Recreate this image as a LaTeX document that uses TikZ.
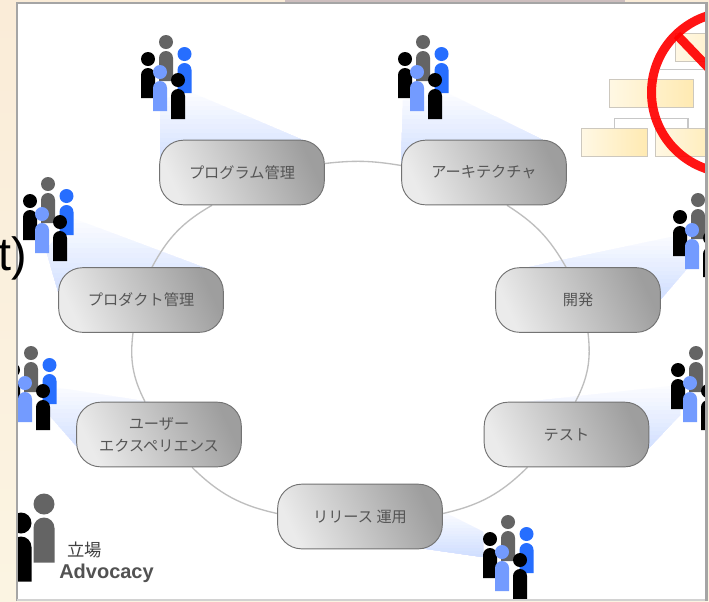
\documentclass[tikz,border=0pt]{standalone}
\usepackage{fontspec}
\setmainfont{Liberation Sans}
\newfontfamily\cjk{Noto Sans CJK JP}
\usetikzlibrary{backgrounds,calc}
\definecolor{PageClr}{RGB}{250,236,216}
\definecolor{PagePale}{RGB}{251,244,226}
\definecolor{MauveClr}{RGB}{205,190,190}
\definecolor{FrameClr}{RGB}{165,165,165}
\definecolor{RingClr}{RGB}{190,190,190}
\definecolor{EdgeClr}{RGB}{115,115,115}
\definecolor{LabelClr}{RGB}{85,85,85}
\definecolor{GreyClr}{RGB}{100,100,100}
\definecolor{BlueClr}{RGB}{38,110,255}
\definecolor{PaleClr}{RGB}{115,155,255}
\definecolor{BeamClr}{RGB}{208,222,255}
\definecolor{BoxClr}{RGB}{255,234,178}
\definecolor{BoxEdge}{RGB}{205,200,190}
\tikzset{
  rolebox/.style={draw=EdgeClr,line width=.7pt,rounded corners=18pt,minimum width=123.5pt,minimum height=48.5pt,
    inner sep=0pt,align=center,left color=black!8,right color=black!38,shading angle=115,
    font=\cjk\fontsize{11.4}{16.5}\selectfont,text=LabelClr},
  orgbox/.style={draw=BoxEdge,line width=.7pt,inner sep=0pt,minimum height=21pt,left color=BoxClr!35,right color=BoxClr},
  orgline/.style={draw=black!22,line width=.8pt},
  ring/.style={draw=RingClr,line width=1pt},
}
% one figure: head at (#1,#2), #3 is its size
\newcommand{\Man}[4]{%
  \fill[#4] (#1,#2) circle (7*#3);
  \fill[#4] (#1-7*#3,#2+39*#3) -- ++(14*#3,0) -- ++(0,-23*#3) arc[start angle=0,end angle=-180,radius=7*#3] -- cycle;
}
\newcommand{\Group}[2]{%
  \Man{#1}{#2}{1}{GreyClr}
  \Man{#1+18.5}{#2+12}{1}{BlueClr}
  \Man{#1-18}{#2+17}{1}{black}
  \Man{#1-6}{#2+30}{1}{PaleClr}
  \Man{#1+12}{#2+38}{1}{black}
}
% pale fan, in bands from y=#1 down to y=#2
\newcommand{\Fan}[3]{%
  \begin{scope}
  \clip #3 -- cycle;
  \foreach \i [evaluate=\i as \c using 8+\i*6] in {0,...,15}
    \fill[BeamClr!\c] (0,{#1+(#2-#1)*\i/16}) rectangle (709,#2);
  \end{scope}
}
\begin{document}
\begin{tikzpicture}[x=.75pt,y=-.75pt]
\useasboundingbox (0,0) rectangle (709,601);

\node[rolebox] (prog) at (242,172.5) {プログラム管理};
\node[rolebox] (arch) at (484,172.5) {アーキテクチャ};
\node[rolebox] (prod) at (141,300) {プロダクト管理};
\node[rolebox] (dev) at (578,300) {開発};
\node[rolebox] (ux) at (159,434.5) {ユーザー\\エクスペリエンス};
\node[rolebox] (test) at (566.5,434.5) {テスト};
\node[rolebox] (ops) at (360,516.5) {リリース 運用};

\begin{scope}[on background layer]
\fill[top color=PageClr,bottom color=PagePale] (0,0) rectangle (709,601);
\fill[MauveClr] (285,0) rectangle (625,2);
\fill[white] (17,3) rectangle (706,601);

% light fans
\Fan{92}{165}{(160,100) -- (190,92) -- (305,141) -- (160,165)}
\Fan{92}{165}{(403,100) -- (445,92) -- (545,141) -- (401,165)}
\Fan{218}{298}{(46,250) -- (72,218) -- (205,268) -- (60,298)}
\Fan{233}{300}{(525,268) -- (690,233) -- (690,265) -- (660,300)}
\Fan{385}{452}{(525,402) -- (680,385) -- (680,415) -- (645,452)}
\Fan{385}{450}{(40,385) -- (150,402) -- (80,450) -- (45,410)}
\Fan{510}{557}{(440,510) -- (483,532) -- (483,557) -- (420,548)}

% ring
\draw[ring] ($(prog.east)+(0,-9)$) to[bend left=8] ($(arch.west)+(0,-7)$);
\draw[ring] ($(arch.south)+(23,0)$) to[bend left=14] ($(dev.north)+(-12,0)$);
\draw[ring] ($(dev.south)+(10,0)$) to[bend left=17] ($(test.north)+(9,0)$);
\draw[ring] ($(test.south)+(-39,0)$) to[bend left=16] ($(ops.east)+(0,-3)$);
\draw[ring] ($(ops.west)+(0,-3)$) to[bend left=16] ($(ux.south)+(33,0)$);
\draw[ring] ($(ux.north)+(-14,0)$) to[bend left=17] ($(prod.south)+(-8,0)$);
\draw[ring] ($(prod.north)+(11,0)$) to[bend left=16] ($(prog.south)+(-30,0)$);
\end{scope}

\begin{scope}
\clip (18,4) rectangle (705,599);
% people
\Group{166}{42}
\Group{423}{42}
\Group{48}{184}
\Group{698}{200}
\Group{31}{353}
\Group{696}{353}
\Group{508}{522}

% the struck out chart
\node[orgbox,minimum width=63pt] (top) at (651,93) {};
\node[orgbox,minimum width=49pt] (left) at (614.5,142) {};
\node[orgbox,minimum width=49pt] (right) at (688,142) {};
\node[orgbox,minimum width=63pt] (peak) at (717,47) {};
\draw[orgline] (left.north) |- ($(top.south)+(0,11)$) -| (right.north);
\draw[orgline] (peak.south) |- ($(top.north)+(9,-9)$);
\coordinate (cross) at (732,92.5);
\draw[red,line width=6.75pt,opacity=.92] (cross) circle (80.5);
\draw[red,line width=6.75pt,opacity=.92] (677,35) -- (cross);

% advocacy key
\Man{44}{504}{1.5}{GreyClr}
\Man{21}{523}{1.5}{black}
\end{scope}
\node[font=\cjk\fontsize{13}{13}\selectfont,text=black!75] (key) at (84.5,550) {立場};
\node[font=\bfseries\fontsize{15}{15}\selectfont,text=black!68] (adv) at (106.5,573) {Advocacy};

% frame
\draw[FrameClr,line width=1.9pt] (17,601) -- (17,3) -- (706.5,3) -- (706.5,601);
\draw[FrameClr!50,line width=.8pt] (17,600) -- (705,600);

% end of a line of text from behind the frame
\node[font=\fontsize{35}{35}\selectfont,text=black,anchor=east,inner sep=0pt] (tail) at (27,258) {t)};
\end{tikzpicture}
\end{document}
